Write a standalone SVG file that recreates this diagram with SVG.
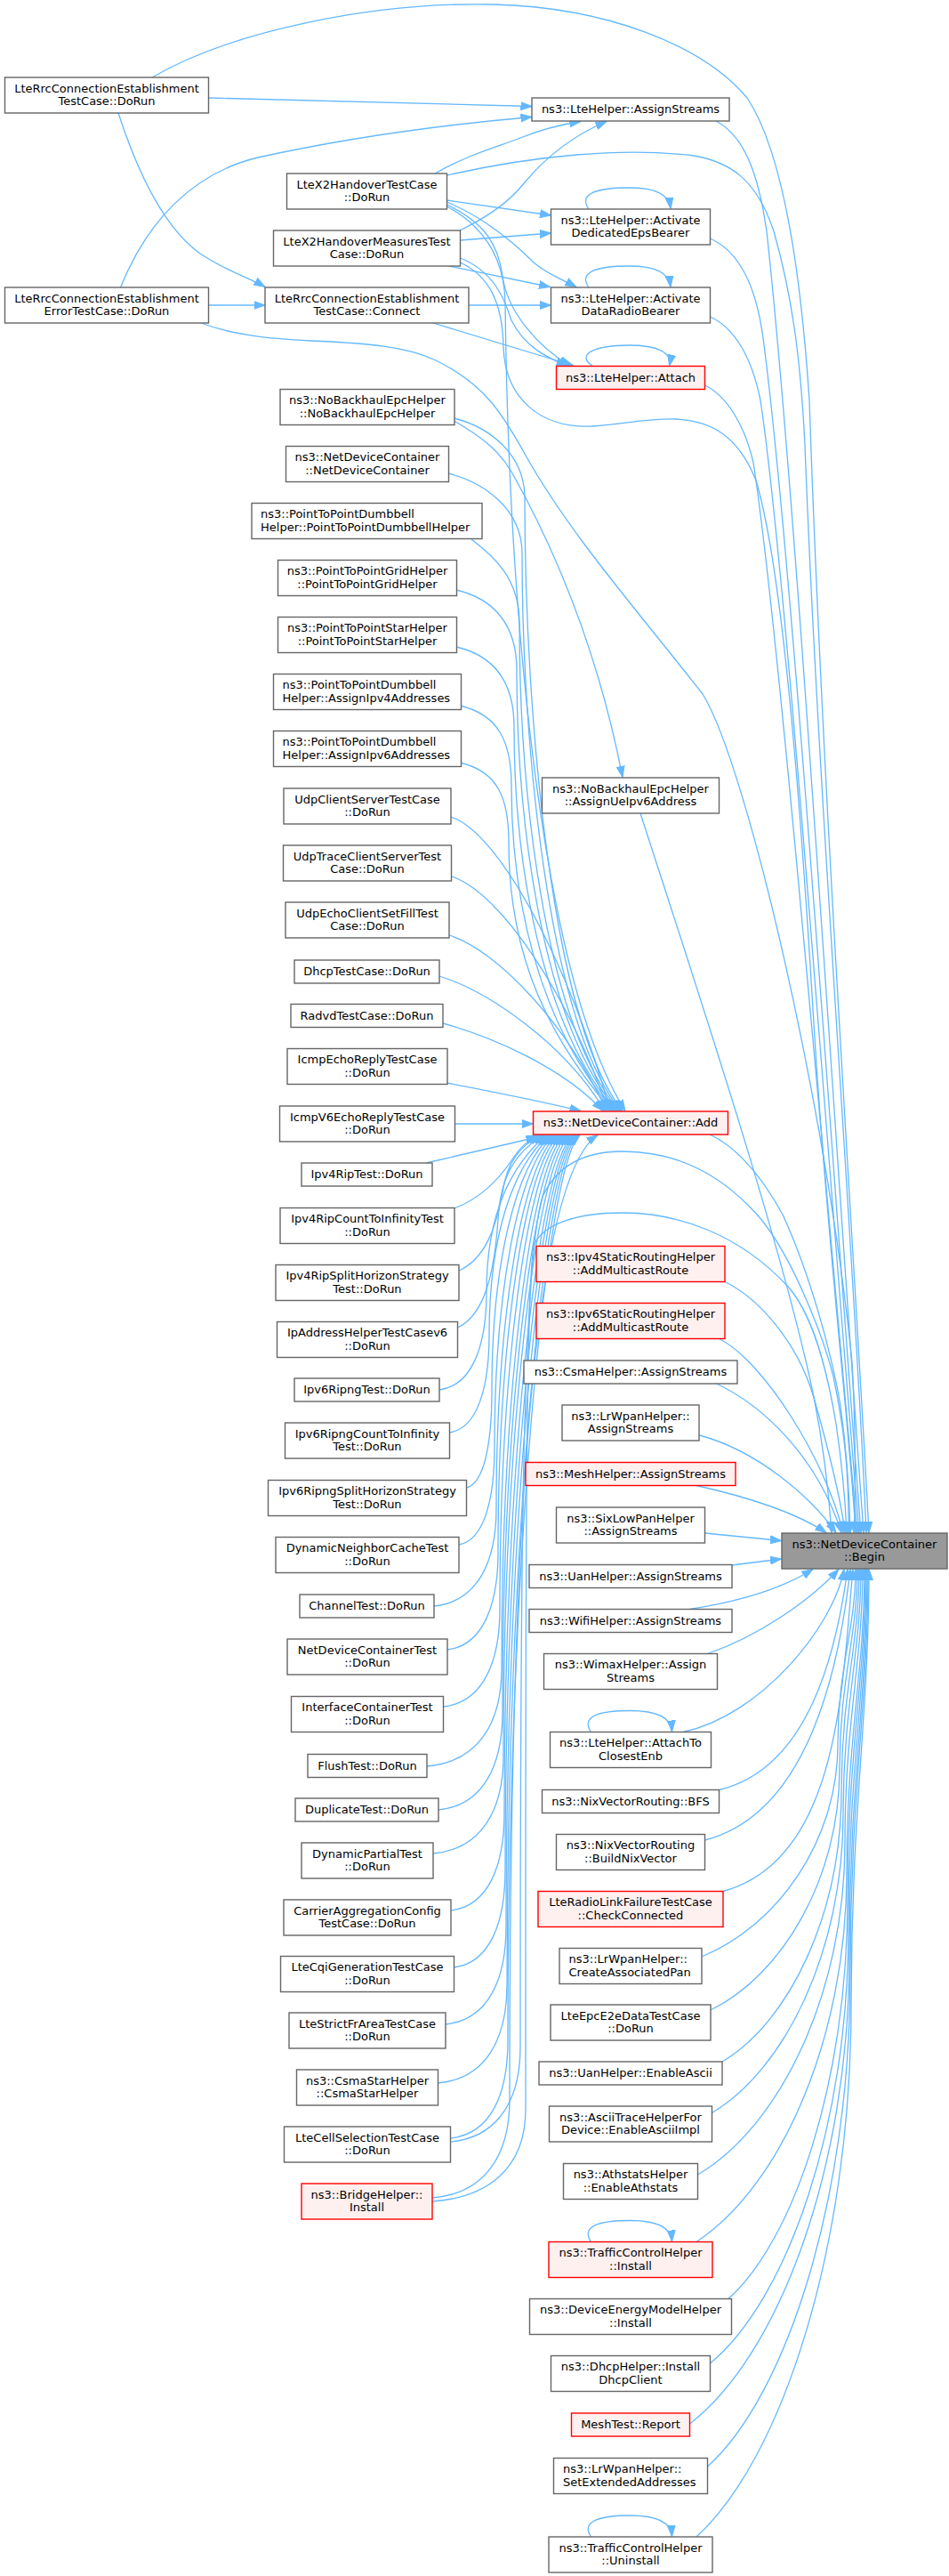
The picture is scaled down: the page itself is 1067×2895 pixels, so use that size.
<svg xmlns="http://www.w3.org/2000/svg" width="1067" height="2895" viewBox="0 0 1067 2895">
<defs>
<marker id="ah" viewBox="0 0 13 10" refX="12.5" refY="5" markerWidth="13" markerHeight="10" markerUnits="userSpaceOnUse" orient="auto"><path d="M0,0.5 L12.5,5 L0,9.5 Z" fill="#63b8ff" stroke="#63b8ff" stroke-width="1"/></marker>
<style>
.e path{fill:none;stroke:#63b8ff;stroke-width:1.3;marker-end:url(#ah)}
.n rect{fill:#ffffff;stroke:#666666;stroke-width:1.4}
.r rect{fill:#fff0f0;stroke:#ff0000;stroke-width:1.4}
.b rect{fill:#999999;stroke:#666666;stroke-width:1.4}
text{font-family:"DejaVu Sans","Liberation Sans",sans-serif;font-size:13px;fill:#000000;text-anchor:middle}
.l text{text-anchor:start}
</style>
</defs>
<rect width="1067" height="2895" fill="#ffffff"/>
<g id="edges" class="e">
<path d="M234.5,110 L598,119.5"/>
<path d="M135.5,323 C165,250 215,195 290,177 C390,155 500,140 598,131.5"/>
<path d="M171,87 C260,35 420,2 554,5 C680,8 790,50 840,110 C880,170 900,300 910,450 C925,900 960,1400 977,1722.5"/>
<path d="M489,195 C530,172 560,165 585,155 C610,145 630,140 653,136.5"/>
<path d="M517,259 C545,245 570,230 590,205 C615,175 645,152 682,136.5"/>
<path d="M502.5,197 C600,175 700,165 780,175 C820,182 850,200 870,260 C890,330 900,400 905,500 C920,900 960,1400 974,1722.5"/>
<path d="M502.5,225 L619.5,242"/>
<path d="M502.5,227 C545,245 580,275 600,295 C615,308 630,313 648,322.5"/>
<path d="M502.5,230 C545,250 560,275 565,310 C570,350 605,390 641,411"/>
<path d="M502.5,232 C545,255 567,290 568,340 C572,700 610,1100 703,1248.5"/>
<path d="M517.5,270 L619.5,262"/>
<path d="M505,299 L618.5,322.5"/>
<path d="M517.5,290 C555,305 567,335 575,360 C590,390 615,402 638,411"/>
<path d="M517.5,295 C550,310 565,340 566,390 C568,450 610,482 667,479 C710,476 725,470 760,471 C800,473 830,490 850,540 C880,640 900,900 915,1150 C930,1400 955,1600 962,1722.5"/>
<path d="M133,127 C160,210 190,260 225,285 C255,305 280,312 298,322.5"/>
<path d="M234.5,343 L298,343"/>
<path d="M226,363 C310,395 420,372 490,405 C545,432 565,465 590,510 C640,600 720,690 790,780 C840,860 930,1250 958,1531 C962,1600 962,1680 960,1722.5"/>
<path d="M527,343 L619.5,343"/>
<path d="M487,363 L645,411"/>
<path d="M805,136 C835,152 852,190 862,260 C895,560 940,1300 971,1722.5"/>
<path d="M798.5,268 C830,282 850,320 858,380 C890,620 935,1300 968,1722.5"/>
<path d="M798.5,356 C825,368 845,400 855,450 C885,650 930,1300 966,1722.5"/>
<path d="M792.5,433 C818,445 838,480 847,520 C875,700 925,1300 964,1722.5"/>
<path d="M662,235 C650,218 670,211 707,211 C737,211 752,218 754,234.5"/>
<path d="M662,323 C650,306 670,299 707,299 C737,299 752,306 754,322.5"/>
<path d="M666.5,411.5 C646,398 670,388 707,388 C739,388 756,396 752.5,411"/>
<path d="M510.5,473 C540,490 560,505 575,530 C620,610 670,720 700,873.5"/>
<path d="M720,914 C780,1100 880,1400 915,1570 C925,1620 932,1680 935,1722.5"/>
<path d="M798,1275 C820,1285 850,1310 880,1365 C910,1430 935,1520 945,1580 C952,1630 955,1680 956,1722.5"/>
<path d="M510.5,470 C550,480 590,510 590,560 C590,801 620,1149 700,1248.5"/>
<path d="M504,532 C544,542 587,572 587,622 C587,841 617,1149 698,1248.5"/>
<path d="M530,606 C555,625 584,650 584,700 C584,900 614,1149 696,1248.5"/>
<path d="M513,663 C556,673 581,703 581,753 C581,930 611,1149 694,1248.5"/>
<path d="M513,727 C556,737 578,767 578,817 C578,970 608,1149 692,1248.5"/>
<path d="M517,793 C560,803 575,833 575,883 C575,1011 605,1149 690,1248.5"/>
<path d="M517,857 C560,867 572,897 572,947 C572,1053 602,1149 688,1248.5"/>
<path d="M507,918 C561,935 641,1084 686,1248.5"/>
<path d="M507.5,985 C562,1002 639,1117 684,1248.5"/>
<path d="M505,1051 C559,1068 637,1150 682,1248.5"/>
<path d="M494,1097 C549,1114 635,1173 680,1248.5"/>
<path d="M498,1150 C553,1165 633,1200 678,1248.5"/>
<path d="M502.5,1217 C560,1228 610,1238 653,1248.5"/>
<path d="M511.5,1263 L599.5,1263"/>
<path d="M479,1307 L604,1278"/>
<path d="M511,1358 C545,1345 565,1320 578,1300 C586,1288 594,1281 606,1275.5"/>
<path d="M516,1428 C545,1415 558,1380 565,1340 C570,1305 585,1288 608,1275.5"/>
<path d="M514.5,1492 C545,1478 556,1430 560,1370 C563,1320 580,1295 611,1275.5"/>
<path d="M494,1562 C531,1557 547,1512 547,1452 C547,1364 574,1311 614,1275.5"/>
<path d="M505.5,1610 C536.7,1605 550,1560 550,1500 C550,1388 577,1311 617,1275.5"/>
<path d="M524.5,1672 C544.5,1667 553,1622 553,1562 C553,1419 580,1311 620,1275.5"/>
<path d="M516,1736 C544,1731 556,1686 556,1626 C556,1451 583,1311 623,1275.5"/>
<path d="M488,1805 C537,1800 558,1755 558,1695 C558,1485 586,1311 626,1275.5"/>
<path d="M503,1854 C543,1849 560,1804 560,1744 C560,1510 589,1311 629,1275.5"/>
<path d="M498.5,1918 C543,1913 562,1868 562,1808 C562,1542 592,1311 632,1275.5"/>
<path d="M480,1985 C538.8,1980 564,1935 564,1875 C564,1575 595,1311 635,1275.5"/>
<path d="M493,2034 C543.4,2029 565,1984 565,1924 C565,1600 598,1311 638,1275.5"/>
<path d="M487,2083 C542.3,2078 566,2033 566,1973 C566,1624 601,1311 641,1275.5"/>
<path d="M507,2147 C549,2142 567,2097 567,2037 C567,1656 604,1311 644,1275.5"/>
<path d="M510.5,2211 C550.7,2206 568,2161 568,2101 C568,1688 606,1311 646,1275.5"/>
<path d="M501,2275 C548.6,2270 569,2225 569,2165 C569,1720 608,1311 648,1275.5"/>
<path d="M492.5,2341 C546.7,2336 570,2291 570,2231 C570,1753 610,1311 650,1275.5"/>
<path d="M506.5,2403 C552.4,2398 571,2353 571,2293 C571,1784 612,1311 652,1275.5"/>
<path d="M486,2470 C546.9,2465 573,2420 573,2360 C573,1818 590,1330 672,1275.5"/>
<path d="M506.5,2407 C552,2403 585,2370 585,2300 C585,1800 586,1420 610,1345 C628,1305 665,1294 700,1294 C760,1294 810,1318 853,1367 C890,1410 925,1500 937,1547 C948,1600 955,1650 954,1722.5"/>
<path d="M486,2474 C545,2470 591,2440 591,2370 C591,1900 590,1460 600,1400 C610,1375 650,1363 700,1363 C760,1363 830,1385 887,1447 C915,1480 930,1540 940,1600 C946,1640 950,1680 952,1722.5"/>
<path d="M815,1440.5 C853,1459 898,1509 916,1574 C930,1624 945,1680 950,1722.5"/>
<path d="M808.5,1504.5 C858,1529 928,1640 948,1722.5"/>
<path d="M803.5,1554 C860,1580 920,1640 946,1722.5"/>
<path d="M786.5,1613 C850,1630 910,1680 940,1722.5"/>
<path d="M778.5,1668.5 C840,1682 895,1700 929,1722.5"/>
<path d="M792.5,1723 L878.5,1731.5"/>
<path d="M823,1759 L878.5,1752"/>
<path d="M775.5,1808.5 C830,1800 880,1785 914,1763.5"/>
<path d="M795.5,1858.5 C850,1840 910,1800 943,1763.5"/>
<path d="M664.5,1946.5 C653,1929 673,1922.5 708.5,1922.5 C738.5,1922.5 754.5,1930 755.5,1946"/>
<path d="M768,1946.5 C854.8,1928.4 937,1828.5 949,1763.5"/>
<path d="M808.5,2011.5 C911.6,1986.9 941,1851.3 953,1763.5"/>
<path d="M792.5,2068 C910.4,2037.7 944,1871 956,1763.5"/>
<path d="M813,2125.5 C945,2089.5 947,1891 959,1763.5"/>
<path d="M789,2199 C874,2164.3 942,2068.8 942,1960.3 C942,1873.5 962,1830 962,1763.5"/>
<path d="M799,2259 C879.7,2219.5 944,2110.8 944,1987.3 C944,1888.5 964,1839 964,1763.5"/>
<path d="M812,2317 C887,2272.8 946,2151.4 946,2013.4 C946,1903 966,1847.8 966,1763.5"/>
<path d="M800.5,2374.5 C882.8,2325.7 948,2191.6 948,2039.3 C948,1917.4 968,1856.4 968,1763.5"/>
<path d="M784.5,2444 C876.7,2389.7 950,2240.3 950,2070.5 C950,1934.7 970,1866.9 970,1763.5"/>
<path d="M664.5,2519.5 C653,2502 673,2495.5 708.5,2495.5 C738.5,2495.5 754.5,2503 755.5,2519"/>
<path d="M783,2519.5 C876.6,2458.2 952,2292.5 952,2104.1 C952,1953.4 972,1878 972,1763.5"/>
<path d="M818.5,2584 C893,2517.6 953,2337.6 953,2133.1 C953,1969.5 973,1887.7 973,1763.5"/>
<path d="M798.5,2656 C885,2584.7 954,2388.7 954,2166 C954,1987.8 974,1898.7 974,1763.5"/>
<path d="M775.5,2724 C875.4,2647.3 955,2436.3 955,2196.5 C955,2004.7 975,1908.9 975,1763.5"/>
<path d="M795.5,2772 C884.7,2691.4 956,2469.9 956,2218.1 C956,2016.7 976,1916 976,1763.5"/>
<path d="M664.5,2851 C653,2834 673,2827 708.5,2827 C738.5,2827 754.5,2834 755.5,2850.5"/>
<path d="M783,2851 C879.4,2763.2 957,2524.5 957,2253.3 C957,2036.3 977,1927.8 977,1763.5"/>
</g>
<g id="n-rrc-dorun" class="n"><rect x="5.5" y="87" width="229" height="40"/><text x="120" y="103.5">LteRrcConnectionEstablishment</text><text x="120" y="118">TestCase::DoRun</text></g>
<g id="n-rrc-err" class="n"><rect x="5.5" y="323" width="229" height="40"/><text x="120" y="339.5">LteRrcConnectionEstablishment</text><text x="120" y="354">ErrorTestCase::DoRun</text></g>
<g id="n-x2" class="n"><rect x="322.5" y="195" width="180" height="40"/><text x="412.5" y="211.5">LteX2HandoverTestCase</text><text x="412.5" y="226">::DoRun</text></g>
<g id="n-x2m" class="n"><rect x="307.5" y="259" width="210" height="40"/><text x="412.5" y="275.5">LteX2HandoverMeasuresTest</text><text x="412.5" y="290">Case::DoRun</text></g>
<g id="n-connect" class="n"><rect x="298" y="323" width="229" height="40"/><text x="412.5" y="339.5">LteRrcConnectionEstablishment</text><text x="412.5" y="354">TestCase::Connect</text></g>
<g id="n-nobh" class="n"><rect x="315" y="437.5" width="196" height="40"/><text x="413" y="454">ns3::NoBackhaulEpcHelper</text><text x="413" y="468.5">::NoBackhaulEpcHelper</text></g>
<g id="n-ndc" class="n"><rect x="321.5" y="501.5" width="183" height="40"/><text x="413" y="518">ns3::NetDeviceContainer</text><text x="413" y="532.5">::NetDeviceContainer</text></g>
<g id="n-dumbbell" class="n l"><rect x="283" y="565.5" width="259" height="40"/><text x="293" y="582">ns3::PointToPointDumbbell</text><text x="293" y="596.5">Helper::PointToPointDumbbellHelper</text></g>
<g id="n-grid" class="n"><rect x="312.5" y="629.5" width="201" height="40"/><text x="413" y="646">ns3::PointToPointGridHelper</text><text x="413" y="660.5">::PointToPointGridHelper</text></g>
<g id="n-star" class="n"><rect x="312.5" y="693.5" width="201" height="40"/><text x="413" y="710">ns3::PointToPointStarHelper</text><text x="413" y="724.5">::PointToPointStarHelper</text></g>
<g id="n-aipv4" class="n l"><rect x="307.5" y="757.5" width="211" height="40"/><text x="317.5" y="774">ns3::PointToPointDumbbell</text><text x="317.5" y="788.5">Helper::AssignIpv4Addresses</text></g>
<g id="n-aipv6" class="n l"><rect x="307.5" y="821.5" width="211" height="40"/><text x="317.5" y="838">ns3::PointToPointDumbbell</text><text x="317.5" y="852.5">Helper::AssignIpv6Addresses</text></g>
<g id="n-udpc" class="n"><rect x="319" y="886" width="188" height="40"/><text x="413" y="902.5">UdpClientServerTestCase</text><text x="413" y="917">::DoRun</text></g>
<g id="n-udpt" class="n"><rect x="318.5" y="950" width="189" height="40"/><text x="413" y="966.5">UdpTraceClientServerTest</text><text x="413" y="981">Case::DoRun</text></g>
<g id="n-udpe" class="n"><rect x="321" y="1014" width="184" height="40"/><text x="413" y="1030.5">UdpEchoClientSetFillTest</text><text x="413" y="1045">Case::DoRun</text></g>
<g id="n-dhcptc" class="n"><rect x="331" y="1079" width="163" height="26"/><text x="412.5" y="1096">DhcpTestCase::DoRun</text></g>
<g id="n-radvd" class="n"><rect x="327" y="1128.5" width="171" height="26"/><text x="412.5" y="1145.5">RadvdTestCase::DoRun</text></g>
<g id="n-icmp" class="n"><rect x="323" y="1178.5" width="180" height="40"/><text x="413" y="1195">IcmpEchoReplyTestCase</text><text x="413" y="1209.5">::DoRun</text></g>
<g id="n-icmp6" class="n"><rect x="314.5" y="1243" width="197" height="40"/><text x="413" y="1259.5">IcmpV6EchoReplyTestCase</text><text x="413" y="1274">::DoRun</text></g>
<g id="n-rip" class="n"><rect x="339" y="1307" width="147" height="26"/><text x="412.5" y="1324">Ipv4RipTest::DoRun</text></g>
<g id="n-ripc" class="n"><rect x="315" y="1357.5" width="196" height="40"/><text x="413" y="1374">Ipv4RipCountToInfinityTest</text><text x="413" y="1388.5">::DoRun</text></g>
<g id="n-rips" class="n"><rect x="310" y="1421.5" width="206" height="40"/><text x="413" y="1438">Ipv4RipSplitHorizonStrategy</text><text x="413" y="1452.5">Test::DoRun</text></g>
<g id="n-ipah" class="n"><rect x="311.5" y="1485.5" width="203" height="40"/><text x="413" y="1502">IpAddressHelperTestCasev6</text><text x="413" y="1516.5">::DoRun</text></g>
<g id="n-ripng" class="n"><rect x="331" y="1549" width="163" height="26"/><text x="412.5" y="1566">Ipv6RipngTest::DoRun</text></g>
<g id="n-ripngc" class="n"><rect x="320.5" y="1599" width="185" height="40"/><text x="413" y="1615.5">Ipv6RipngCountToInfinity</text><text x="413" y="1630">Test::DoRun</text></g>
<g id="n-ripngs" class="n"><rect x="301.5" y="1663.5" width="223" height="40"/><text x="413" y="1680">Ipv6RipngSplitHorizonStrategy</text><text x="413" y="1694.5">Test::DoRun</text></g>
<g id="n-dnc" class="n"><rect x="310" y="1727.5" width="206" height="40"/><text x="413" y="1744">DynamicNeighborCacheTest</text><text x="413" y="1758.5">::DoRun</text></g>
<g id="n-chan" class="n"><rect x="337" y="1792" width="151" height="26"/><text x="412.5" y="1809">ChannelTest::DoRun</text></g>
<g id="n-ndct" class="n"><rect x="323" y="1842" width="180" height="40"/><text x="413" y="1858.5">NetDeviceContainerTest</text><text x="413" y="1873">::DoRun</text></g>
<g id="n-ict" class="n"><rect x="327.5" y="1906.5" width="171" height="40"/><text x="413" y="1923">InterfaceContainerTest</text><text x="413" y="1937.5">::DoRun</text></g>
<g id="n-flush" class="n"><rect x="346" y="1971.5" width="134" height="26"/><text x="413" y="1988.5">FlushTest::DoRun</text></g>
<g id="n-dup" class="n"><rect x="332" y="2021" width="161" height="26"/><text x="412.5" y="2038">DuplicateTest::DoRun</text></g>
<g id="n-dpt" class="n"><rect x="339" y="2071" width="148" height="40"/><text x="413" y="2087.5">DynamicPartialTest</text><text x="413" y="2102">::DoRun</text></g>
<g id="n-caconf" class="n"><rect x="319" y="2135" width="188" height="40"/><text x="413" y="2151.5">CarrierAggregationConfig</text><text x="413" y="2166">TestCase::DoRun</text></g>
<g id="n-cqi" class="n"><rect x="315.5" y="2198.5" width="195" height="40"/><text x="413" y="2215">LteCqiGenerationTestCase</text><text x="413" y="2229.5">::DoRun</text></g>
<g id="n-sfr" class="n"><rect x="325" y="2262" width="176" height="40"/><text x="413" y="2278.5">LteStrictFrAreaTestCase</text><text x="413" y="2293">::DoRun</text></g>
<g id="n-csmastar" class="n"><rect x="333.5" y="2326" width="159" height="40"/><text x="413" y="2342.5">ns3::CsmaStarHelper</text><text x="413" y="2357">::CsmaStarHelper</text></g>
<g id="n-cellsel" class="n"><rect x="319.5" y="2390" width="187" height="40"/><text x="413" y="2406.5">LteCellSelectionTestCase</text><text x="413" y="2421">::DoRun</text></g>
<g id="n-bridge" class="r"><rect x="339" y="2454" width="147" height="40"/><text x="412.5" y="2470.5">ns3::BridgeHelper::</text><text x="412.5" y="2485">Install</text></g>
<g id="n-assignstreams" class="n"><rect x="598" y="110" width="222" height="26"/><text x="709" y="127">ns3::LteHelper::AssignStreams</text></g>
<g id="n-actded" class="n"><rect x="619.5" y="235" width="179" height="40"/><text x="709" y="251.5">ns3::LteHelper::Activate</text><text x="709" y="266">DedicatedEpsBearer</text></g>
<g id="n-actdata" class="n"><rect x="619.5" y="323" width="179" height="40"/><text x="709" y="339.5">ns3::LteHelper::Activate</text><text x="709" y="354">DataRadioBearer</text></g>
<g id="n-attach" class="r"><rect x="625.5" y="411.5" width="167" height="26"/><text x="709" y="428.5">ns3::LteHelper::Attach</text></g>
<g id="n-assignue" class="n"><rect x="609.5" y="874" width="199" height="40"/><text x="709" y="890.5">ns3::NoBackhaulEpcHelper</text><text x="709" y="905">::AssignUeIpv6Address</text></g>
<g id="n-add" class="r"><rect x="599.5" y="1249" width="219" height="26"/><text x="709" y="1266">ns3::NetDeviceContainer::Add</text></g>
<g id="n-ipv4s" class="r"><rect x="603" y="1400.5" width="212" height="40"/><text x="709" y="1417">ns3::Ipv4StaticRoutingHelper</text><text x="709" y="1431.5">::AddMulticastRoute</text></g>
<g id="n-ipv6s" class="r"><rect x="603" y="1464.5" width="212" height="40"/><text x="709" y="1481">ns3::Ipv6StaticRoutingHelper</text><text x="709" y="1495.5">::AddMulticastRoute</text></g>
<g id="n-csma" class="n"><rect x="589" y="1529" width="240" height="26"/><text x="709" y="1546">ns3::CsmaHelper::AssignStreams</text></g>
<g id="n-lrwpan-as" class="n"><rect x="632" y="1579" width="154" height="40"/><text x="709" y="1595.5">ns3::LrWpanHelper::</text><text x="709" y="1610">AssignStreams</text></g>
<g id="n-mesh" class="r"><rect x="591" y="1643.5" width="236" height="26"/><text x="709" y="1660.5">ns3::MeshHelper::AssignStreams</text></g>
<g id="n-sixlowpan" class="n"><rect x="625.5" y="1694" width="167" height="40"/><text x="709" y="1710.5">ns3::SixLowPanHelper</text><text x="709" y="1725">::AssignStreams</text></g>
<g id="n-uan-as" class="n"><rect x="595" y="1758.5" width="228" height="26"/><text x="709" y="1775.5">ns3::UanHelper::AssignStreams</text></g>
<g id="n-wifi-as" class="n"><rect x="595" y="1808.5" width="228" height="26"/><text x="709" y="1825.5">ns3::WifiHelper::AssignStreams</text></g>
<g id="n-wimax" class="n"><rect x="611.5" y="1858.5" width="195" height="40"/><text x="709" y="1875">ns3::WimaxHelper::Assign</text><text x="709" y="1889.5">Streams</text></g>
<g id="n-atce" class="n"><rect x="618.5" y="1946.5" width="181" height="40"/><text x="709" y="1963">ns3::LteHelper::AttachTo</text><text x="709" y="1977.5">ClosestEnb</text></g>
<g id="n-bfs" class="n"><rect x="609.5" y="2011.5" width="199" height="26"/><text x="709" y="2028.5">ns3::NixVectorRouting::BFS</text></g>
<g id="n-buildnix" class="n"><rect x="625.5" y="2061.5" width="167" height="40"/><text x="709" y="2078">ns3::NixVectorRouting</text><text x="709" y="2092.5">::BuildNixVector</text></g>
<g id="n-checkconn" class="r"><rect x="605" y="2125.5" width="208" height="40"/><text x="709" y="2142">LteRadioLinkFailureTestCase</text><text x="709" y="2156.5">::CheckConnected</text></g>
<g id="n-createpan" class="n l"><rect x="629" y="2189.5" width="160" height="40"/><text x="639.5" y="2206">ns3::LrWpanHelper::</text><text x="639.5" y="2220.5">CreateAssociatedPan</text></g>
<g id="n-e2e" class="n"><rect x="619" y="2253" width="180" height="40"/><text x="709" y="2269.5">LteEpcE2eDataTestCase</text><text x="709" y="2284">::DoRun</text></g>
<g id="n-uan-ea" class="n"><rect x="606" y="2317" width="206" height="26"/><text x="709" y="2334">ns3::UanHelper::EnableAscii</text></g>
<g id="n-ascii" class="n"><rect x="617.5" y="2367" width="183" height="40"/><text x="709" y="2383.5">ns3::AsciiTraceHelperFor</text><text x="709" y="2398">Device::EnableAsciiImpl</text></g>
<g id="n-athstats" class="n"><rect x="633.5" y="2431.5" width="151" height="40"/><text x="709" y="2448">ns3::AthstatsHelper</text><text x="709" y="2462.5">::EnableAthstats</text></g>
<g id="n-tcinstall" class="r"><rect x="617" y="2519.5" width="184" height="40"/><text x="709" y="2536">ns3::TrafficControlHelper</text><text x="709" y="2550.5">::Install</text></g>
<g id="n-energy" class="n"><rect x="595.5" y="2583.5" width="227" height="40"/><text x="709" y="2600">ns3::DeviceEnergyModelHelper</text><text x="709" y="2614.5">::Install</text></g>
<g id="n-dhcphelper" class="n"><rect x="619.5" y="2647.5" width="179" height="40"/><text x="709" y="2664">ns3::DhcpHelper::Install</text><text x="709" y="2678.5">DhcpClient</text></g>
<g id="n-meshtest" class="r"><rect x="642.5" y="2712" width="133" height="26"/><text x="709" y="2729">MeshTest::Report</text></g>
<g id="n-setext" class="n l"><rect x="622.5" y="2762.5" width="173" height="40"/><text x="633" y="2779">ns3::LrWpanHelper::</text><text x="633" y="2793.5">SetExtendedAddresses</text></g>
<g id="n-uninstall" class="n"><rect x="617" y="2851" width="184" height="40"/><text x="709" y="2867.5">ns3::TrafficControlHelper</text><text x="709" y="2882">::Uninstall</text></g>
<g id="n-begin" class="b"><rect x="879" y="1723" width="186" height="40"/><text x="972" y="1739.5">ns3::NetDeviceContainer</text><text x="972" y="1754">::Begin</text></g>
</svg>
